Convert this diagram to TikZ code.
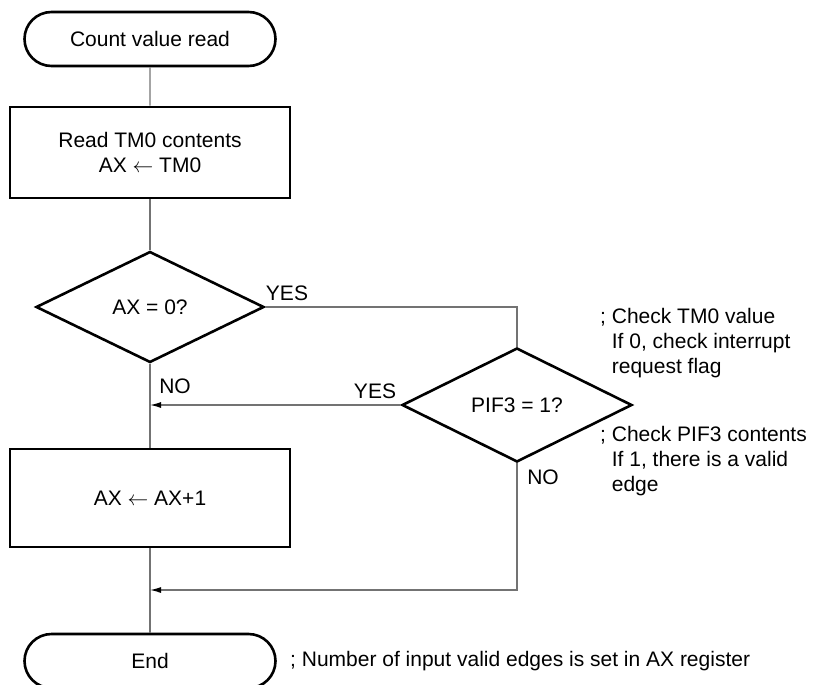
\documentclass[tikz,border=0pt]{standalone}
\usepackage{fontspec}
\setmainfont{Liberation Sans}
\usetikzlibrary{arrows.meta,shapes.geometric,shapes.misc}

\begin{document}
\begin{tikzpicture}[x=1pt,y=-1pt,
  font=\fontsize{21}{25}\selectfont,
  term/.style={draw,line width=2.6pt,rounded rectangle,minimum width=251pt,minimum height=54pt,inner sep=0pt},
  proc/.style={draw,line width=2.6pt,rectangle,minimum width=280pt,inner sep=0pt,align=center},
  decide/.style={draw,line width=2.6pt,diamond,aspect=2,inner sep=0pt},
  note/.style={anchor=west,align=left,inner sep=0pt},
  link/.style={black!55,line width=1.3pt},
  tip/.style={-{Latex[length=11pt,width=6pt,black]}}]
  \useasboundingbox (0,0) rectangle (814,685);
  \node[term] (start) at (150,39) {Count value read};
  \node[proc,minimum height=91pt] (read) at (150,152.5) {Read TM0 contents\\AX $\leftarrow$ TM0};
  \node[decide,minimum width=228pt,minimum height=111pt] (zero) at (150,307) {AX = 0?};
  \node[decide,minimum width=230pt,minimum height=114pt] (pif) at (517,405) {PIF3 = 1?};
  \node[proc,minimum height=98pt] (inc) at (150,498) {AX $\leftarrow$ AX+1};
  \node[term] (stop) at (150,661) {End};
  \coordinate (join) at (150,590);
  \node (yes1) at (287,293) {YES};
  \node (no1) at (175,386) {NO};
  \node (yes2) at (375,391) {YES};
  \node (no2) at (543,477) {NO};
  \node[note] (cmtzero) at (600,343) {; Check TM0 value\\\hphantom{; }If 0, check interrupt\\\hphantom{; }request flag};
  \node[note] (cmtpif) at (600,461) {; Check PIF3 contents\\\hphantom{; }If 1, there is a valid\\\hphantom{; }edge};
  \node[note] (cmtend) at (290,661) {; Number of input valid edges is set in AX register};
  \draw[link] (start) -- (read);
  \draw[link] (read) -- (zero);
  \draw[link] (zero.east) -| (pif.north);
  \draw[link] (zero) -- (inc);
  \draw[link,tip] (pif.west) -- (pif.west -| zero.south);
  \draw[link] (inc) -- (stop);
  \draw[link,tip] (pif.south) |- (join);
\end{tikzpicture}
\end{document}
